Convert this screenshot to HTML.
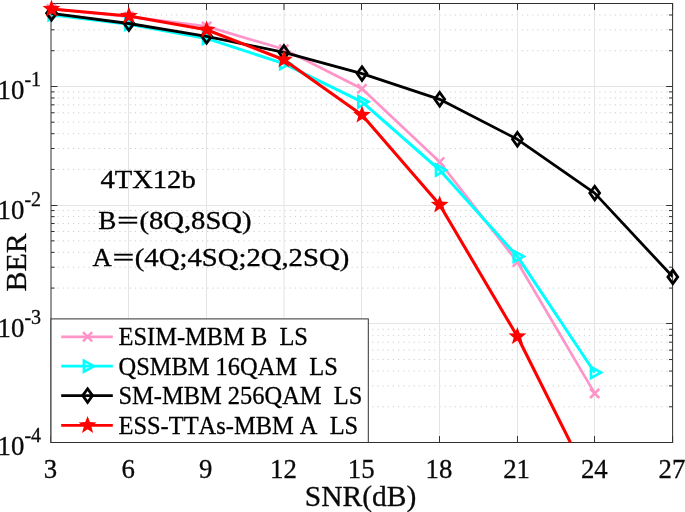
<!DOCTYPE html>
<html><head><meta charset="utf-8"><title>BER vs SNR</title>
<style>html,body{margin:0;padding:0;background:#fff;overflow:hidden}body{width:685px;height:512px;position:relative;font-family:"Liberation Serif",serif}</style>
</head><body>
<svg width="685" height="512" viewBox="0 0 685 512" style="position:absolute;left:0;top:0;will-change:transform;font-kerning:none;font-family:'Liberation Serif',serif">
<rect x="0" y="0" width="685" height="512" fill="#ffffff"/>
<defs><clipPath id="ax"><rect x="51.00" y="3.50" width="621.60" height="439.00"/></clipPath></defs>
<line x1="51.00" y1="406.77" x2="672.60" y2="406.77" stroke="#cfcfcf" stroke-width="1" stroke-dasharray="1.2 3.96" stroke-dashoffset="-1.34"/>
<line x1="51.00" y1="385.87" x2="672.60" y2="385.87" stroke="#cfcfcf" stroke-width="1" stroke-dasharray="1.2 3.96" stroke-dashoffset="-1.34"/>
<line x1="51.00" y1="371.05" x2="672.60" y2="371.05" stroke="#cfcfcf" stroke-width="1" stroke-dasharray="1.2 3.96" stroke-dashoffset="-1.34"/>
<line x1="51.00" y1="359.55" x2="672.60" y2="359.55" stroke="#cfcfcf" stroke-width="1" stroke-dasharray="1.2 3.96" stroke-dashoffset="-1.34"/>
<line x1="51.00" y1="350.15" x2="672.60" y2="350.15" stroke="#cfcfcf" stroke-width="1" stroke-dasharray="1.2 3.96" stroke-dashoffset="-1.34"/>
<line x1="51.00" y1="342.20" x2="672.60" y2="342.20" stroke="#cfcfcf" stroke-width="1" stroke-dasharray="1.2 3.96" stroke-dashoffset="-1.34"/>
<line x1="51.00" y1="335.32" x2="672.60" y2="335.32" stroke="#cfcfcf" stroke-width="1" stroke-dasharray="1.2 3.96" stroke-dashoffset="-1.34"/>
<line x1="51.00" y1="329.25" x2="672.60" y2="329.25" stroke="#cfcfcf" stroke-width="1" stroke-dasharray="1.2 3.96" stroke-dashoffset="-1.34"/>
<line x1="51.00" y1="288.09" x2="672.60" y2="288.09" stroke="#cfcfcf" stroke-width="1" stroke-dasharray="1.2 3.96" stroke-dashoffset="-1.34"/>
<line x1="51.00" y1="267.19" x2="672.60" y2="267.19" stroke="#cfcfcf" stroke-width="1" stroke-dasharray="1.2 3.96" stroke-dashoffset="-1.34"/>
<line x1="51.00" y1="252.36" x2="672.60" y2="252.36" stroke="#cfcfcf" stroke-width="1" stroke-dasharray="1.2 3.96" stroke-dashoffset="-1.34"/>
<line x1="51.00" y1="240.86" x2="672.60" y2="240.86" stroke="#cfcfcf" stroke-width="1" stroke-dasharray="1.2 3.96" stroke-dashoffset="-1.34"/>
<line x1="51.00" y1="231.47" x2="672.60" y2="231.47" stroke="#cfcfcf" stroke-width="1" stroke-dasharray="1.2 3.96" stroke-dashoffset="-1.34"/>
<line x1="51.00" y1="223.52" x2="672.60" y2="223.52" stroke="#cfcfcf" stroke-width="1" stroke-dasharray="1.2 3.96" stroke-dashoffset="-1.34"/>
<line x1="51.00" y1="216.64" x2="672.60" y2="216.64" stroke="#cfcfcf" stroke-width="1" stroke-dasharray="1.2 3.96" stroke-dashoffset="-1.34"/>
<line x1="51.00" y1="210.57" x2="672.60" y2="210.57" stroke="#cfcfcf" stroke-width="1" stroke-dasharray="1.2 3.96" stroke-dashoffset="-1.34"/>
<line x1="51.00" y1="169.41" x2="672.60" y2="169.41" stroke="#cfcfcf" stroke-width="1" stroke-dasharray="1.2 3.96" stroke-dashoffset="-1.34"/>
<line x1="51.00" y1="148.51" x2="672.60" y2="148.51" stroke="#cfcfcf" stroke-width="1" stroke-dasharray="1.2 3.96" stroke-dashoffset="-1.34"/>
<line x1="51.00" y1="133.68" x2="672.60" y2="133.68" stroke="#cfcfcf" stroke-width="1" stroke-dasharray="1.2 3.96" stroke-dashoffset="-1.34"/>
<line x1="51.00" y1="122.18" x2="672.60" y2="122.18" stroke="#cfcfcf" stroke-width="1" stroke-dasharray="1.2 3.96" stroke-dashoffset="-1.34"/>
<line x1="51.00" y1="112.78" x2="672.60" y2="112.78" stroke="#cfcfcf" stroke-width="1" stroke-dasharray="1.2 3.96" stroke-dashoffset="-1.34"/>
<line x1="51.00" y1="104.84" x2="672.60" y2="104.84" stroke="#cfcfcf" stroke-width="1" stroke-dasharray="1.2 3.96" stroke-dashoffset="-1.34"/>
<line x1="51.00" y1="97.96" x2="672.60" y2="97.96" stroke="#cfcfcf" stroke-width="1" stroke-dasharray="1.2 3.96" stroke-dashoffset="-1.34"/>
<line x1="51.00" y1="91.89" x2="672.60" y2="91.89" stroke="#cfcfcf" stroke-width="1" stroke-dasharray="1.2 3.96" stroke-dashoffset="-1.34"/>
<line x1="51.00" y1="50.73" x2="672.60" y2="50.73" stroke="#cfcfcf" stroke-width="1" stroke-dasharray="1.2 3.96" stroke-dashoffset="-1.34"/>
<line x1="51.00" y1="29.83" x2="672.60" y2="29.83" stroke="#cfcfcf" stroke-width="1" stroke-dasharray="1.2 3.96" stroke-dashoffset="-1.34"/>
<line x1="51.00" y1="15.00" x2="672.60" y2="15.00" stroke="#cfcfcf" stroke-width="1" stroke-dasharray="1.2 3.96" stroke-dashoffset="-1.34"/>
<line x1="51.00" y1="86.50" x2="672.60" y2="86.50" stroke="#e4e4e4" stroke-width="1"/>
<line x1="51.00" y1="205.50" x2="672.60" y2="205.50" stroke="#e4e4e4" stroke-width="1"/>
<line x1="51.00" y1="323.50" x2="672.60" y2="323.50" stroke="#e4e4e4" stroke-width="1"/>
<line x1="128.50" y1="3.50" x2="128.50" y2="442.50" stroke="#e4e4e4" stroke-width="1"/>
<line x1="206.50" y1="3.50" x2="206.50" y2="442.50" stroke="#e4e4e4" stroke-width="1"/>
<line x1="284.00" y1="3.50" x2="284.00" y2="442.50" stroke="#e4e4e4" stroke-width="1"/>
<line x1="361.50" y1="3.50" x2="361.50" y2="442.50" stroke="#e4e4e4" stroke-width="1"/>
<line x1="439.50" y1="3.50" x2="439.50" y2="442.50" stroke="#e4e4e4" stroke-width="1"/>
<line x1="517.50" y1="3.50" x2="517.50" y2="442.50" stroke="#e4e4e4" stroke-width="1"/>
<line x1="594.50" y1="3.50" x2="594.50" y2="442.50" stroke="#e4e4e4" stroke-width="1"/>
<line x1="51.00" y1="442.50" x2="51.00" y2="436.10" stroke="#303030" stroke-width="1"/>
<line x1="51.00" y1="3.50" x2="51.00" y2="9.90" stroke="#303030" stroke-width="1"/>
<line x1="128.50" y1="442.50" x2="128.50" y2="436.10" stroke="#303030" stroke-width="1"/>
<line x1="128.50" y1="3.50" x2="128.50" y2="9.90" stroke="#303030" stroke-width="1"/>
<line x1="206.50" y1="442.50" x2="206.50" y2="436.10" stroke="#303030" stroke-width="1"/>
<line x1="206.50" y1="3.50" x2="206.50" y2="9.90" stroke="#303030" stroke-width="1"/>
<line x1="284.00" y1="442.50" x2="284.00" y2="436.10" stroke="#303030" stroke-width="1"/>
<line x1="284.00" y1="3.50" x2="284.00" y2="9.90" stroke="#303030" stroke-width="1"/>
<line x1="361.50" y1="442.50" x2="361.50" y2="436.10" stroke="#303030" stroke-width="1"/>
<line x1="361.50" y1="3.50" x2="361.50" y2="9.90" stroke="#303030" stroke-width="1"/>
<line x1="439.50" y1="442.50" x2="439.50" y2="436.10" stroke="#303030" stroke-width="1"/>
<line x1="439.50" y1="3.50" x2="439.50" y2="9.90" stroke="#303030" stroke-width="1"/>
<line x1="517.50" y1="442.50" x2="517.50" y2="436.10" stroke="#303030" stroke-width="1"/>
<line x1="517.50" y1="3.50" x2="517.50" y2="9.90" stroke="#303030" stroke-width="1"/>
<line x1="594.50" y1="442.50" x2="594.50" y2="436.10" stroke="#303030" stroke-width="1"/>
<line x1="594.50" y1="3.50" x2="594.50" y2="9.90" stroke="#303030" stroke-width="1"/>
<line x1="672.60" y1="442.50" x2="672.60" y2="436.10" stroke="#303030" stroke-width="1"/>
<line x1="672.60" y1="3.50" x2="672.60" y2="9.90" stroke="#303030" stroke-width="1"/>
<line x1="51.00" y1="442.50" x2="57.40" y2="442.50" stroke="#303030" stroke-width="1"/>
<line x1="672.60" y1="442.50" x2="666.20" y2="442.50" stroke="#303030" stroke-width="1"/>
<line x1="51.00" y1="406.77" x2="54.60" y2="406.77" stroke="#303030" stroke-width="1"/>
<line x1="672.60" y1="406.77" x2="669.00" y2="406.77" stroke="#303030" stroke-width="1"/>
<line x1="51.00" y1="385.87" x2="54.60" y2="385.87" stroke="#303030" stroke-width="1"/>
<line x1="672.60" y1="385.87" x2="669.00" y2="385.87" stroke="#303030" stroke-width="1"/>
<line x1="51.00" y1="371.05" x2="54.60" y2="371.05" stroke="#303030" stroke-width="1"/>
<line x1="672.60" y1="371.05" x2="669.00" y2="371.05" stroke="#303030" stroke-width="1"/>
<line x1="51.00" y1="359.55" x2="54.60" y2="359.55" stroke="#303030" stroke-width="1"/>
<line x1="672.60" y1="359.55" x2="669.00" y2="359.55" stroke="#303030" stroke-width="1"/>
<line x1="51.00" y1="350.15" x2="54.60" y2="350.15" stroke="#303030" stroke-width="1"/>
<line x1="672.60" y1="350.15" x2="669.00" y2="350.15" stroke="#303030" stroke-width="1"/>
<line x1="51.00" y1="342.20" x2="54.60" y2="342.20" stroke="#303030" stroke-width="1"/>
<line x1="672.60" y1="342.20" x2="669.00" y2="342.20" stroke="#303030" stroke-width="1"/>
<line x1="51.00" y1="335.32" x2="54.60" y2="335.32" stroke="#303030" stroke-width="1"/>
<line x1="672.60" y1="335.32" x2="669.00" y2="335.32" stroke="#303030" stroke-width="1"/>
<line x1="51.00" y1="329.25" x2="54.60" y2="329.25" stroke="#303030" stroke-width="1"/>
<line x1="672.60" y1="329.25" x2="669.00" y2="329.25" stroke="#303030" stroke-width="1"/>
<line x1="51.00" y1="323.50" x2="57.40" y2="323.50" stroke="#303030" stroke-width="1"/>
<line x1="672.60" y1="323.50" x2="666.20" y2="323.50" stroke="#303030" stroke-width="1"/>
<line x1="51.00" y1="288.09" x2="54.60" y2="288.09" stroke="#303030" stroke-width="1"/>
<line x1="672.60" y1="288.09" x2="669.00" y2="288.09" stroke="#303030" stroke-width="1"/>
<line x1="51.00" y1="267.19" x2="54.60" y2="267.19" stroke="#303030" stroke-width="1"/>
<line x1="672.60" y1="267.19" x2="669.00" y2="267.19" stroke="#303030" stroke-width="1"/>
<line x1="51.00" y1="252.36" x2="54.60" y2="252.36" stroke="#303030" stroke-width="1"/>
<line x1="672.60" y1="252.36" x2="669.00" y2="252.36" stroke="#303030" stroke-width="1"/>
<line x1="51.00" y1="240.86" x2="54.60" y2="240.86" stroke="#303030" stroke-width="1"/>
<line x1="672.60" y1="240.86" x2="669.00" y2="240.86" stroke="#303030" stroke-width="1"/>
<line x1="51.00" y1="231.47" x2="54.60" y2="231.47" stroke="#303030" stroke-width="1"/>
<line x1="672.60" y1="231.47" x2="669.00" y2="231.47" stroke="#303030" stroke-width="1"/>
<line x1="51.00" y1="223.52" x2="54.60" y2="223.52" stroke="#303030" stroke-width="1"/>
<line x1="672.60" y1="223.52" x2="669.00" y2="223.52" stroke="#303030" stroke-width="1"/>
<line x1="51.00" y1="216.64" x2="54.60" y2="216.64" stroke="#303030" stroke-width="1"/>
<line x1="672.60" y1="216.64" x2="669.00" y2="216.64" stroke="#303030" stroke-width="1"/>
<line x1="51.00" y1="210.57" x2="54.60" y2="210.57" stroke="#303030" stroke-width="1"/>
<line x1="672.60" y1="210.57" x2="669.00" y2="210.57" stroke="#303030" stroke-width="1"/>
<line x1="51.00" y1="205.50" x2="57.40" y2="205.50" stroke="#303030" stroke-width="1"/>
<line x1="672.60" y1="205.50" x2="666.20" y2="205.50" stroke="#303030" stroke-width="1"/>
<line x1="51.00" y1="169.41" x2="54.60" y2="169.41" stroke="#303030" stroke-width="1"/>
<line x1="672.60" y1="169.41" x2="669.00" y2="169.41" stroke="#303030" stroke-width="1"/>
<line x1="51.00" y1="148.51" x2="54.60" y2="148.51" stroke="#303030" stroke-width="1"/>
<line x1="672.60" y1="148.51" x2="669.00" y2="148.51" stroke="#303030" stroke-width="1"/>
<line x1="51.00" y1="133.68" x2="54.60" y2="133.68" stroke="#303030" stroke-width="1"/>
<line x1="672.60" y1="133.68" x2="669.00" y2="133.68" stroke="#303030" stroke-width="1"/>
<line x1="51.00" y1="122.18" x2="54.60" y2="122.18" stroke="#303030" stroke-width="1"/>
<line x1="672.60" y1="122.18" x2="669.00" y2="122.18" stroke="#303030" stroke-width="1"/>
<line x1="51.00" y1="112.78" x2="54.60" y2="112.78" stroke="#303030" stroke-width="1"/>
<line x1="672.60" y1="112.78" x2="669.00" y2="112.78" stroke="#303030" stroke-width="1"/>
<line x1="51.00" y1="104.84" x2="54.60" y2="104.84" stroke="#303030" stroke-width="1"/>
<line x1="672.60" y1="104.84" x2="669.00" y2="104.84" stroke="#303030" stroke-width="1"/>
<line x1="51.00" y1="97.96" x2="54.60" y2="97.96" stroke="#303030" stroke-width="1"/>
<line x1="672.60" y1="97.96" x2="669.00" y2="97.96" stroke="#303030" stroke-width="1"/>
<line x1="51.00" y1="91.89" x2="54.60" y2="91.89" stroke="#303030" stroke-width="1"/>
<line x1="672.60" y1="91.89" x2="669.00" y2="91.89" stroke="#303030" stroke-width="1"/>
<line x1="51.00" y1="86.50" x2="57.40" y2="86.50" stroke="#303030" stroke-width="1"/>
<line x1="672.60" y1="86.50" x2="666.20" y2="86.50" stroke="#303030" stroke-width="1"/>
<line x1="51.00" y1="50.73" x2="54.60" y2="50.73" stroke="#303030" stroke-width="1"/>
<line x1="672.60" y1="50.73" x2="669.00" y2="50.73" stroke="#303030" stroke-width="1"/>
<line x1="51.00" y1="29.83" x2="54.60" y2="29.83" stroke="#303030" stroke-width="1"/>
<line x1="672.60" y1="29.83" x2="669.00" y2="29.83" stroke="#303030" stroke-width="1"/>
<line x1="51.00" y1="15.00" x2="54.60" y2="15.00" stroke="#303030" stroke-width="1"/>
<line x1="672.60" y1="15.00" x2="669.00" y2="15.00" stroke="#303030" stroke-width="1"/>
<line x1="51.00" y1="3.50" x2="54.60" y2="3.50" stroke="#303030" stroke-width="1"/>
<line x1="672.60" y1="3.50" x2="669.00" y2="3.50" stroke="#303030" stroke-width="1"/>
<rect x="51.00" y="3.50" width="621.60" height="439.00" fill="none" stroke="#303030" stroke-width="1"/>
<polyline points="51.50,8.90 128.90,16.60 206.60,26.40 283.90,49.30 362.00,88.75 439.70,162.00 517.40,262.00 594.70,393.40" fill="none" stroke="#ff94c9" stroke-width="2.70" stroke-linejoin="round" clip-path="url(#ax)"/>
<path d="M46.90 4.30L56.10 13.50M46.90 13.50L56.10 4.30" stroke="#ff94c9" stroke-width="2.60" fill="none"/>
<path d="M124.30 12.00L133.50 21.20M124.30 21.20L133.50 12.00" stroke="#ff94c9" stroke-width="2.60" fill="none"/>
<path d="M202.00 21.80L211.20 31.00M202.00 31.00L211.20 21.80" stroke="#ff94c9" stroke-width="2.60" fill="none"/>
<path d="M279.30 44.70L288.50 53.90M279.30 53.90L288.50 44.70" stroke="#ff94c9" stroke-width="2.60" fill="none"/>
<path d="M357.40 84.15L366.60 93.35M357.40 93.35L366.60 84.15" stroke="#ff94c9" stroke-width="2.60" fill="none"/>
<path d="M435.10 157.40L444.30 166.60M435.10 166.60L444.30 157.40" stroke="#ff94c9" stroke-width="2.60" fill="none"/>
<path d="M512.80 257.40L522.00 266.60M512.80 266.60L522.00 257.40" stroke="#ff94c9" stroke-width="2.60" fill="none"/>
<path d="M590.10 388.80L599.30 398.00M590.10 398.00L599.30 388.80" stroke="#ff94c9" stroke-width="2.60" fill="none"/>
<polyline points="51.50,14.80 128.90,24.20 206.60,38.40 283.90,63.60 362.00,101.80 439.70,170.00 517.40,256.40 594.70,372.50" fill="none" stroke="#00ffff" stroke-width="3.00" stroke-linejoin="round" clip-path="url(#ax)"/>
<path d="M48.60 9.30L48.60 20.30L58.70 14.80Z" stroke="#00ffff" stroke-width="2.60" fill="none" stroke-linejoin="miter" stroke-miterlimit="10"/>
<path d="M125.20 18.70L125.20 29.70L135.30 24.20Z" stroke="#00ffff" stroke-width="2.60" fill="none" stroke-linejoin="miter" stroke-miterlimit="10"/>
<path d="M202.90 32.90L202.90 43.90L213.00 38.40Z" stroke="#00ffff" stroke-width="2.60" fill="none" stroke-linejoin="miter" stroke-miterlimit="10"/>
<path d="M280.20 58.10L280.20 69.10L290.30 63.60Z" stroke="#00ffff" stroke-width="2.60" fill="none" stroke-linejoin="miter" stroke-miterlimit="10"/>
<path d="M358.30 96.30L358.30 107.30L368.40 101.80Z" stroke="#00ffff" stroke-width="2.60" fill="none" stroke-linejoin="miter" stroke-miterlimit="10"/>
<path d="M436.00 164.50L436.00 175.50L446.10 170.00Z" stroke="#00ffff" stroke-width="2.60" fill="none" stroke-linejoin="miter" stroke-miterlimit="10"/>
<path d="M513.70 250.90L513.70 261.90L523.80 256.40Z" stroke="#00ffff" stroke-width="2.60" fill="none" stroke-linejoin="miter" stroke-miterlimit="10"/>
<path d="M591.00 367.00L591.00 378.00L601.10 372.50Z" stroke="#00ffff" stroke-width="2.60" fill="none" stroke-linejoin="miter" stroke-miterlimit="10"/>
<polyline points="51.50,13.30 128.90,23.50 206.60,36.30 283.90,52.40 362.00,73.60 439.70,99.30 517.40,139.30 594.70,193.10 672.80,276.90" fill="none" stroke="#000000" stroke-width="2.80" stroke-linejoin="round" clip-path="url(#ax)"/>
<path d="M51.50 6.50L56.40 13.30L51.50 20.10L46.60 13.30Z" stroke="#000000" stroke-width="2.80" fill="none" stroke-linejoin="miter" stroke-miterlimit="10"/>
<path d="M128.90 16.70L133.80 23.50L128.90 30.30L124.00 23.50Z" stroke="#000000" stroke-width="2.80" fill="none" stroke-linejoin="miter" stroke-miterlimit="10"/>
<path d="M206.60 29.50L211.50 36.30L206.60 43.10L201.70 36.30Z" stroke="#000000" stroke-width="2.80" fill="none" stroke-linejoin="miter" stroke-miterlimit="10"/>
<path d="M283.90 45.60L288.80 52.40L283.90 59.20L279.00 52.40Z" stroke="#000000" stroke-width="2.80" fill="none" stroke-linejoin="miter" stroke-miterlimit="10"/>
<path d="M362.00 66.80L366.90 73.60L362.00 80.40L357.10 73.60Z" stroke="#000000" stroke-width="2.80" fill="none" stroke-linejoin="miter" stroke-miterlimit="10"/>
<path d="M439.70 92.50L444.60 99.30L439.70 106.10L434.80 99.30Z" stroke="#000000" stroke-width="2.80" fill="none" stroke-linejoin="miter" stroke-miterlimit="10"/>
<path d="M517.40 132.50L522.30 139.30L517.40 146.10L512.50 139.30Z" stroke="#000000" stroke-width="2.80" fill="none" stroke-linejoin="miter" stroke-miterlimit="10"/>
<path d="M594.70 186.30L599.60 193.10L594.70 199.90L589.80 193.10Z" stroke="#000000" stroke-width="2.80" fill="none" stroke-linejoin="miter" stroke-miterlimit="10"/>
<path d="M672.80 270.10L677.70 276.90L672.80 283.70L667.90 276.90Z" stroke="#000000" stroke-width="2.80" fill="none" stroke-linejoin="miter" stroke-miterlimit="10"/>
<polyline points="51.50,9.00 128.90,16.00 206.60,29.80 283.90,59.70 362.00,115.00 439.70,204.80 517.40,336.50 594.70,491.00" fill="none" stroke="#ff0000" stroke-width="3.10" stroke-linejoin="round" clip-path="url(#ax)"/>
<polygon points="51.50,-0.40 53.82,5.81 60.44,6.10 55.25,10.22 57.03,16.60 51.50,12.95 45.97,16.60 47.75,10.22 42.56,6.10 49.18,5.81" fill="#ff0000"/>
<polygon points="128.90,6.60 131.22,12.81 137.84,13.10 132.65,17.22 134.43,23.60 128.90,19.95 123.37,23.60 125.15,17.22 119.96,13.10 126.58,12.81" fill="#ff0000"/>
<polygon points="206.60,20.40 208.92,26.61 215.54,26.90 210.35,31.02 212.13,37.40 206.60,33.75 201.07,37.40 202.85,31.02 197.66,26.90 204.28,26.61" fill="#ff0000"/>
<polygon points="283.90,50.30 286.22,56.51 292.84,56.80 287.65,60.92 289.43,67.30 283.90,63.65 278.37,67.30 280.15,60.92 274.96,56.80 281.58,56.51" fill="#ff0000"/>
<polygon points="362.00,105.60 364.32,111.81 370.94,112.10 365.75,116.22 367.53,122.60 362.00,118.95 356.47,122.60 358.25,116.22 353.06,112.10 359.68,111.81" fill="#ff0000"/>
<polygon points="439.70,195.40 442.02,201.61 448.64,201.90 443.45,206.02 445.23,212.40 439.70,208.75 434.17,212.40 435.95,206.02 430.76,201.90 437.38,201.61" fill="#ff0000"/>
<polygon points="517.40,327.10 519.72,333.31 526.34,333.60 521.15,337.72 522.93,344.10 517.40,340.45 511.87,344.10 513.65,337.72 508.46,333.60 515.08,333.31" fill="#ff0000"/>
<text x="100.40" y="188.00" font-size="25.80" textLength="95.30" lengthAdjust="spacingAndGlyphs" fill="#000" stroke="#000" stroke-width="0.35">4TX12b</text>
<text x="98.20" y="229.00" font-size="25.80" textLength="18.10" lengthAdjust="spacingAndGlyphs" fill="#000" stroke="#000" stroke-width="0.35">B</text>
<text x="117.00" y="229.00" font-size="25.80" textLength="21.90" lengthAdjust="spacingAndGlyphs" fill="#000" stroke="#000" stroke-width="0.35">=</text>
<text x="139.40" y="229.00" font-size="25.80" textLength="112.20" lengthAdjust="spacingAndGlyphs" fill="#000" stroke="#000" stroke-width="0.35">(8Q,8SQ)</text>
<text x="92.50" y="265.70" font-size="25.80" textLength="19.20" lengthAdjust="spacingAndGlyphs" fill="#000" stroke="#000" stroke-width="0.35">A</text>
<text x="112.40" y="265.70" font-size="25.80" textLength="21.90" lengthAdjust="spacingAndGlyphs" fill="#000" stroke="#000" stroke-width="0.35">=</text>
<text x="134.80" y="265.70" font-size="25.80" textLength="214.40" lengthAdjust="spacingAndGlyphs" fill="#000" stroke="#000" stroke-width="0.35">(4Q;4SQ;2Q,2SQ)</text>
<rect x="51.00" y="318.90" width="317.30" height="123.60" fill="#fff" stroke="#303030" stroke-width="1"/>
<line x1="61.2" y1="336.80" x2="112.8" y2="336.80" stroke="#ff94c9" stroke-width="2.70"/>
<path d="M83.00 332.20L92.20 341.40M83.00 341.40L92.20 332.20" stroke="#ff94c9" stroke-width="2.60" fill="none"/>
<text x="118.5" y="344.60" font-size="24.45" fill="#000" stroke="#000" stroke-width="0.3" xml:space="preserve">ESIM-MBM B  LS</text>
<line x1="61.2" y1="366.20" x2="112.8" y2="366.20" stroke="#00ffff" stroke-width="2.80"/>
<path d="M83.90 360.70L83.90 371.70L94.00 366.20Z" stroke="#00ffff" stroke-width="2.60" fill="none" stroke-linejoin="miter" stroke-miterlimit="10"/>
<text x="118.5" y="374.60" font-size="24.45" fill="#000" stroke="#000" stroke-width="0.3" xml:space="preserve">QSMBM 16QAM  LS</text>
<line x1="61.2" y1="395.60" x2="112.8" y2="395.60" stroke="#000000" stroke-width="2.80"/>
<path d="M87.60 388.80L92.50 395.60L87.60 402.40L82.70 395.60Z" stroke="#000000" stroke-width="2.80" fill="none" stroke-linejoin="miter" stroke-miterlimit="10"/>
<text x="118.5" y="404.20" font-size="24.45" fill="#000" stroke="#000" stroke-width="0.3" xml:space="preserve">SM-MBM 256QAM  LS</text>
<line x1="61.2" y1="425.30" x2="112.8" y2="425.30" stroke="#ff0000" stroke-width="2.80"/>
<polygon points="87.60,415.90 89.92,422.11 96.54,422.40 91.35,426.52 93.13,432.90 87.60,429.25 82.07,432.90 83.85,426.52 78.66,422.40 85.28,422.11" fill="#ff0000"/>
<text x="118.5" y="433.80" font-size="24.45" fill="#000" stroke="#000" stroke-width="0.3" xml:space="preserve">ESS-TTAs-MBM A  LS</text>
<text x="50.40" y="478.0" font-size="26.8" text-anchor="middle" fill="#0a0a0a" stroke="#0a0a0a" stroke-width="0.3">3</text>
<text x="128.10" y="478.0" font-size="26.8" text-anchor="middle" fill="#0a0a0a" stroke="#0a0a0a" stroke-width="0.3">6</text>
<text x="205.80" y="478.0" font-size="26.8" text-anchor="middle" fill="#0a0a0a" stroke="#0a0a0a" stroke-width="0.3">9</text>
<text x="283.50" y="478.0" font-size="26.8" text-anchor="middle" fill="#0a0a0a" stroke="#0a0a0a" stroke-width="0.3">12</text>
<text x="361.20" y="478.0" font-size="26.8" text-anchor="middle" fill="#0a0a0a" stroke="#0a0a0a" stroke-width="0.3">15</text>
<text x="438.90" y="478.0" font-size="26.8" text-anchor="middle" fill="#0a0a0a" stroke="#0a0a0a" stroke-width="0.3">18</text>
<text x="516.60" y="478.0" font-size="26.8" text-anchor="middle" fill="#0a0a0a" stroke="#0a0a0a" stroke-width="0.3">21</text>
<text x="594.30" y="478.0" font-size="26.8" text-anchor="middle" fill="#0a0a0a" stroke="#0a0a0a" stroke-width="0.3">24</text>
<text x="672.00" y="478.0" font-size="26.8" text-anchor="middle" fill="#0a0a0a" stroke="#0a0a0a" stroke-width="0.3">27</text>
<text x="-2.4" y="98.60" font-size="26.8" fill="#0a0a0a" stroke="#0a0a0a" stroke-width="0.3">10</text>
<text x="24.4" y="85.80" font-size="20" fill="#0a0a0a" stroke="#0a0a0a" stroke-width="0.3">-1</text>
<text x="-2.4" y="218.70" font-size="26.8" fill="#0a0a0a" stroke="#0a0a0a" stroke-width="0.3">10</text>
<text x="24.4" y="205.90" font-size="20" fill="#0a0a0a" stroke="#0a0a0a" stroke-width="0.3">-2</text>
<text x="-2.4" y="336.80" font-size="26.8" fill="#0a0a0a" stroke="#0a0a0a" stroke-width="0.3">10</text>
<text x="24.4" y="324.00" font-size="20" fill="#0a0a0a" stroke="#0a0a0a" stroke-width="0.3">-3</text>
<text x="-2.4" y="455.00" font-size="26.8" fill="#0a0a0a" stroke="#0a0a0a" stroke-width="0.3">10</text>
<text x="24.4" y="442.20" font-size="20" fill="#0a0a0a" stroke="#0a0a0a" stroke-width="0.3">-4</text>
<text x="360.5" y="505.6" font-size="29.5" text-anchor="middle" fill="#0a0a0a" stroke="#0a0a0a" stroke-width="0.3">SNR(dB)</text>
<text transform="translate(26.4 262.3) rotate(-90)" font-size="30" text-anchor="middle" fill="#0a0a0a" stroke="#0a0a0a" stroke-width="0.3">BER</text>
</svg>
</body></html>
